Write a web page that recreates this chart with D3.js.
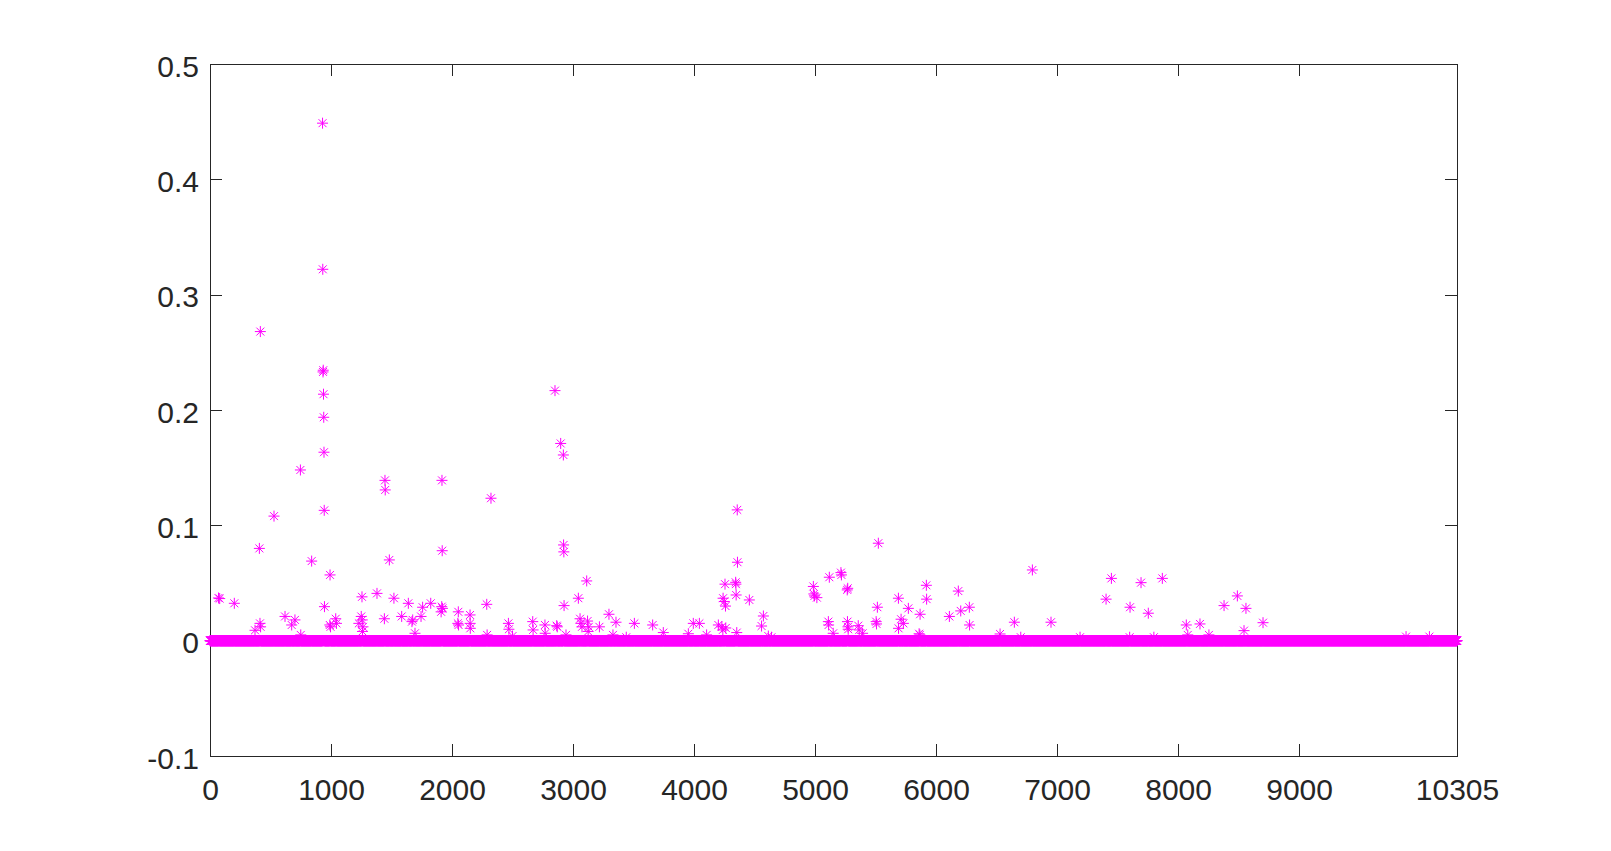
<!DOCTYPE html>
<meta charset="utf-8">
<style>
body {
    margin: 0;
    background: #fff;
}

.axis text {
    font-family: "Liberation Sans", Arial, sans-serif;
    font-size: 30px;
    fill: #262626;
}

.axis path,
.axis line {
    fill: none;
    stroke: #262626;
    stroke-width: 1px;
    shape-rendering: crispEdges;
}

.mark {
    fill: none;
    stroke: #ff00ff;
    stroke-width: 1px;
}
</style>

<body>
    <script src="https://d3js.org/d3.v7.min.js"></script>
    <script>
    // number of samples (every index is plotted, most are zero)
    var N = 10305;

    // indices of the non-zero samples
    var spikeIdx = [70, 80, 201, 372, 408, 413, 418, 416, 529, 620, 675, 702, 747, 750, 840,
        930, 932, 934, 936, 938, 940, 942, 944, 946, 992, 990, 996, 1039, 1045,
        1256, 1250, 1258, 1230, 1264, 1260, 1380, 1441, 1446, 1448, 1482, 1520, 1584,
        1639, 1669, 1675, 1694, 1744, 1757, 1824, 1917, 1919, 1921, 1915, 1910,
        2052, 2048, 2054, 2149, 2150, 2151, 2287, 2290, 2322, 2466, 2470, 2500, 2667, 2670,
        2768, 2770, 2851, 2865, 2870, 2898, 2920, 2922, 2924, 2926, 2942, 3044, 3113,
        3058, 3065, 3074, 3120, 3130, 3125, 3218, 3297, 3355, 3330, 3440, 3507, 3658, 3746,
        3953, 3994, 4044, 4104, 4201, 4256, 4240, 4250, 4260, 4344, 4346, 4348, 4357,
        4359, 4230, 4238, 4262, 4353, 4457, 4573, 4558, 4614, 4640, 4986, 4990, 4995, 5015,
        5118, 5214, 5218, 5270, 5266, 5110, 5112, 5150, 5268, 5272, 5274, 5357, 5365,
        5393, 5523, 5515, 5505, 5508, 5689, 5771, 5711, 5730, 5690, 5868, 5860, 5866,
        5920, 5922, 6110, 6184, 6204, 6275, 6277, 6529, 6647, 6700, 6796, 6950, 7190,
        7405, 7449, 7600, 7603, 7694, 7754, 7800, 7870, 8068, 8181, 8080, 8255, 8380, 8490,
        8561, 8545, 8702, 9884, 10077];

    // values of the non-zero samples
    var spikeVal = [0.037, 0.0365, 0.0324, 0.009, 0.080, 0.015, 0.012, 0.268, 0.108, 0.021, 0.0136, 0.018, 0.148, 0.005, 0.069,
        0.4487, 0.322, 0.233, 0.2345, 0.2137, 0.1937, 0.1634, 0.113, 0.0295, 0.057, 0.0136, 0.012, 0.019, 0.015,
        0.038, 0.021, 0.018, 0.015, 0.012, 0.008, 0.041, 0.019, 0.139, 0.1307, 0.070, 0.0368, 0.021,
        0.0324, 0.0165, 0.018, 0.0064, 0.021, 0.029, 0.0324, 0.139, 0.078, 0.028, 0.0295, 0.025,
        0.025, 0.015, 0.0136, 0.0223, 0.015, 0.0107, 0.0315, 0.005, 0.1235, 0.015, 0.0099, 0.004, 0.0165, 0.0093,
        0.0136, 0.0064, 0.2168, 0.013, 0.012, 0.171, 0.161, 0.083, 0.077, 0.0304, 0.005, 0.0368, 0.0518,
        0.019, 0.015, 0.012, 0.017, 0.012, 0.008, 0.012, 0.0229, 0.016, 0.005, 0.003, 0.015, 0.0136, 0.007,
        0.006, 0.015, 0.015, 0.005, 0.0136, 0.049, 0.0368, 0.034, 0.030, 0.0506, 0.049, 0.0396, 0.1134,
        0.068, 0.012, 0.0093, 0.011, 0.007, 0.0353, 0.0214, 0.0127, 0.004, 0.003, 0.047, 0.0405, 0.0388, 0.0373,
        0.055, 0.059, 0.057, 0.0454, 0.044, 0.0165, 0.0136, 0.0064, 0.0165, 0.012, 0.0099, 0.013, 0.0093,
        0.0064, 0.0845, 0.029, 0.0165, 0.0145, 0.0368, 0.028, 0.0186, 0.015, 0.0107, 0.0229, 0.006, 0.005,
        0.048, 0.036, 0.021, 0.043, 0.0258, 0.029, 0.0136, 0.0058, 0.016, 0.003, 0.0613, 0.016, 0.003,
        0.036, 0.054, 0.003, 0.029, 0.0503, 0.0238, 0.003, 0.054, 0.0136, 0.0145, 0.005, 0.005, 0.0304, 0.0388,
        0.028, 0.0087, 0.0156, 0.0035, 0.0035];

    // tick values
    var xTicks = [0, 1000, 2000, 3000, 4000, 5000, 6000, 7000, 8000, 9000, 10305];
    var yTicks = [-0.1, 0, 0.1, 0.2, 0.3, 0.4, 0.5];

    // build the samples: listed spikes, zero everywhere else
    var spikes = new Map();
    spikeIdx.forEach(function(k, i) { if (!spikes.has(k)) spikes.set(k, spikeVal[i]); });
    var data = [];
    for (var i = 1; i <= N; i++) {
        data.push({ x: i, y: spikes.has(i) ? spikes.get(i) : 0 });
    }
    // extra duplicate spike entries (same index listed twice)
    spikeIdx.forEach(function(k, i) {
        if (spikes.get(k) !== spikeVal[i]) data.push({ x: k, y: spikeVal[i] });
    });

    // setting up canvas size
    var W = 1611, H = 851;
    var margin = { top: 64, right: 154, bottom: 95, left: 210 },
        width = W - margin.left - margin.right,
        height = H - margin.top - margin.bottom;

    var x = d3.scaleLinear().domain([0, 10305]).range([0, width]);
    var y = d3.scaleLinear().domain([-0.1, 0.5]).range([height, 0]);

    var svg = d3.select("body")
        .append("svg")
        .attr("width", W)
        .attr("height", H)
        .style("display", "block");

    svg.append("rect").attr("width", W).attr("height", H).attr("fill", "#fff");

    var g = svg.append("g")
        .attr("transform", "translate(" + margin.left + "," + margin.top + ")");

    var fmt = function(d) { return d === 0 ? "0" : String(+d.toFixed(1)); };
    var tickLen = 12;

    // bottom axis, ticks pointing inward
    var xAxis = g.append("g")
        .attr("class", "x axis")
        .attr("transform", "translate(0," + height + ")")
        .call(d3.axisBottom(x).tickValues(xTicks).tickSize(-tickLen).tickPadding(0).tickFormat(d3.format("d")));
    xAxis.selectAll("text").attr("y", 44).attr("dy", null);

    // top axis, no labels
    g.append("g")
        .attr("class", "x axis")
        .call(d3.axisTop(x).tickValues(xTicks).tickSize(-tickLen).tickFormat(""));

    // left axis
    var yAxis = g.append("g")
        .attr("class", "y axis")
        .call(d3.axisLeft(y).tickValues(yTicks).tickSize(-tickLen).tickPadding(0).tickFormat(fmt));
    yAxis.selectAll("text").attr("x", -11).attr("dy", "0.41em");

    // right axis, no labels
    g.append("g")
        .attr("class", "y axis")
        .attr("transform", "translate(" + width + ",0)")
        .call(d3.axisRight(y).tickValues(yTicks).tickSize(-tickLen).tickFormat(""));

    g.selectAll(".axis path").attr("d", null);

    // box around the plot
    g.append("rect")
        .attr("width", width)
        .attr("height", height)
        .attr("fill", "none")
        .attr("stroke", "#262626")
        .attr("stroke-width", 1)
        .attr("shape-rendering", "crispEdges");

    // asterisk marker
    var r = 5.5, dd = r * 0.72;
    var star = "M" + (-r) + ",0H" + r + "M0," + (-r) + "V" + r +
        "M" + (-dd) + "," + (-dd) + "L" + dd + "," + dd +
        "M" + (-dd) + "," + dd + "L" + dd + "," + (-dd);

    g.selectAll(".mark")
        .data(data)
        .enter()
        .append("path")
        .attr("class", "mark")
        .attr("transform", function(d) { return "translate(" + x(d.x) + "," + y(d.y) + ")"; })
        .attr("d", star);
    </script>
</body>
